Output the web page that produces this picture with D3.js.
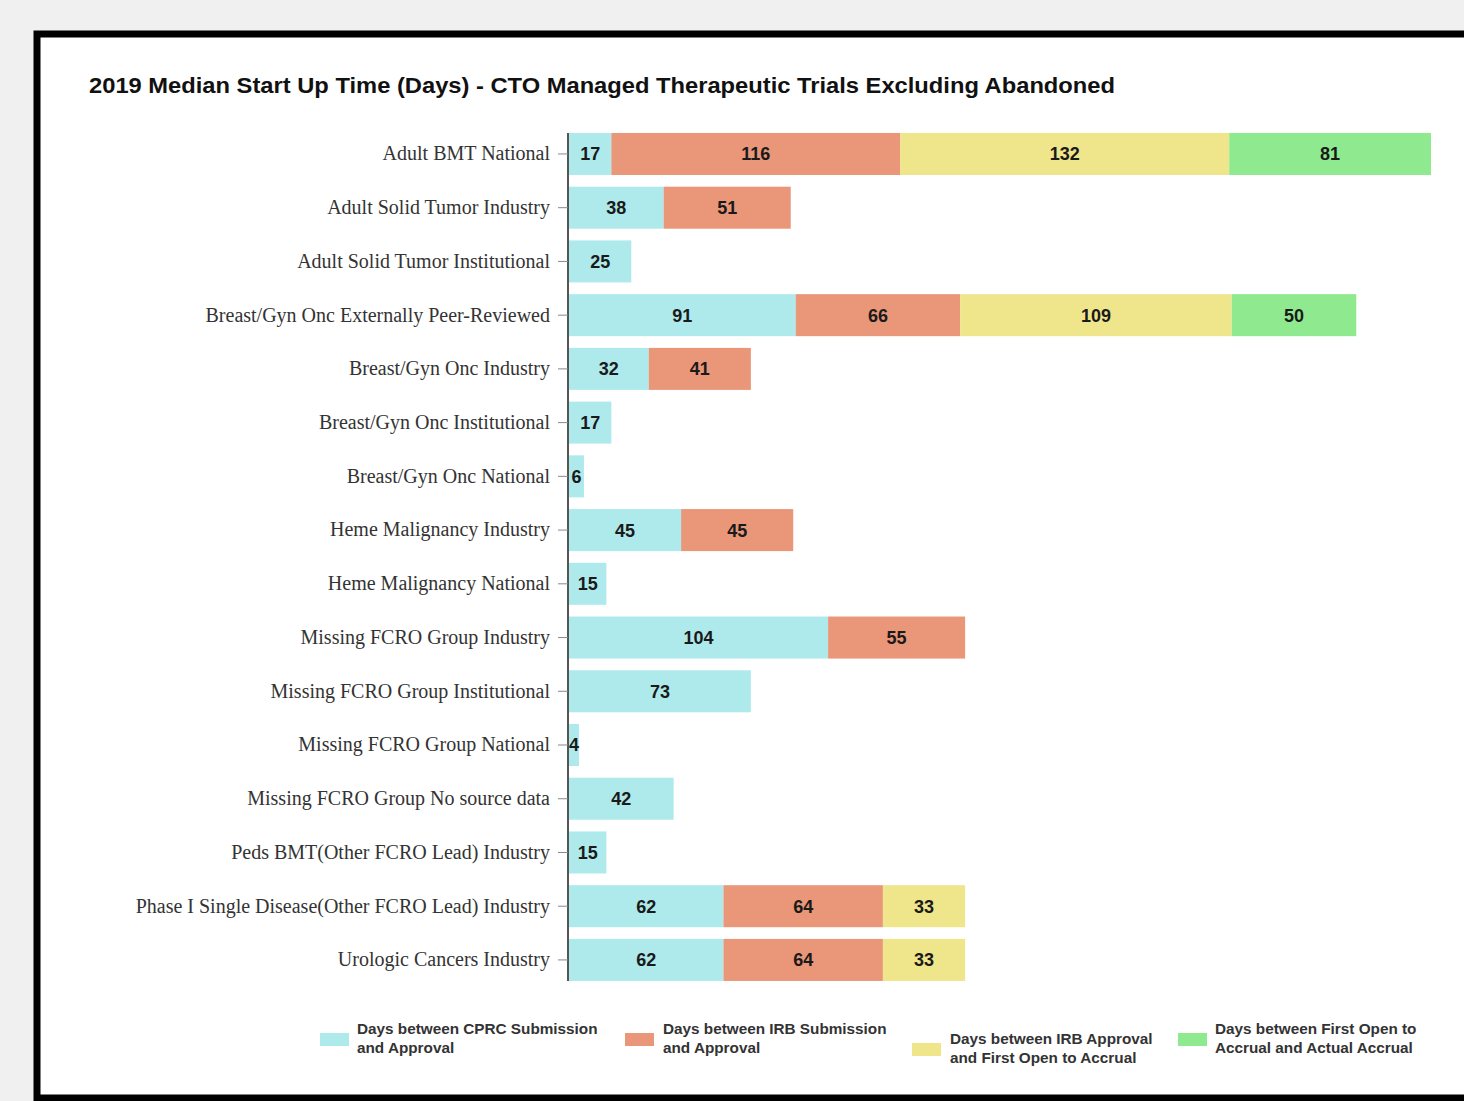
<!DOCTYPE html>
<html><head><meta charset="utf-8">
<script src="https://cdn.jsdelivr.net/npm/d3@7"></script>
<style>
html,body{margin:0;padding:0;background:#f0f0f0;}
svg{display:block;}
</style></head>
<body>
<script>
const categories = [
  "Adult BMT National",
  "Adult Solid Tumor Industry",
  "Adult Solid Tumor Institutional",
  "Breast/Gyn Onc Externally Peer-Reviewed",
  "Breast/Gyn Onc Industry",
  "Breast/Gyn Onc Institutional",
  "Breast/Gyn Onc National",
  "Heme Malignancy Industry",
  "Heme Malignancy National",
  "Missing FCRO Group Industry",
  "Missing FCRO Group Institutional",
  "Missing FCRO Group National",
  "Missing FCRO Group No source data",
  "Peds BMT(Other FCRO Lead) Industry",
  "Phase I Single Disease(Other FCRO Lead) Industry",
  "Urologic Cancers Industry"
];
const cprcDays   = [17, 38, 25, 91, 32, 17, 6, 45, 15, 104, 73, 4, 42, 15, 62, 62];
const irbDays    = [116, 51, 0, 66, 41, 0, 0, 45, 0, 55, 0, 0, 0, 0, 64, 64];
const openDays   = [132, 0, 0, 109, 0, 0, 0, 0, 0, 0, 0, 0, 0, 0, 33, 33];
const accrualDays= [81, 0, 0, 50, 0, 0, 0, 0, 0, 0, 0, 0, 0, 0, 0, 0];
const seriesNames = [
  ["Days between CPRC Submission", "and Approval"],
  ["Days between IRB Submission", "and Approval"],
  ["Days between IRB Approval", "and First Open to Accrual"],
  ["Days between First Open to", "Accrual and Actual Accrual"]
];
const colors = ["#aeeaec", "#ea9679", "#efe58b", "#8fea8f"];
const titleText = "2019 Median Start Up Time (Days) - CTO Managed Therapeutic Trials Excluding Abandoned";

const W = 1464, H = 1101;
const svg = d3.select("body").append("svg").attr("width", W).attr("height", H);
svg.append("rect").attr("width", W).attr("height", H).attr("fill", "#f0f0f0");
// frame
svg.append("rect").attr("x", 37).attr("y", 34).attr("width", W + 20).attr("height", 1064)
  .attr("fill", "#ffffff").attr("stroke", "#000").attr("stroke-width", 7);

svg.append("text").attr("x", 89).attr("y", 93)
  .attr("font-family", "Liberation Sans, Arial, sans-serif").attr("font-weight", "bold")
  .attr("font-size", 22.5).attr("fill", "#111")
  .attr("textLength", 1026).attr("lengthAdjust", "spacingAndGlyphs").text(titleText);

const series = [cprcDays, irbDays, openDays, accrualDays];
const rows = categories.map((c, i) => ({cat: c, vals: series.map(s => s[i])}));

const x = d3.scaleLinear().domain([0, 346]).range([569, 1431]);
const y = d3.scaleBand().domain(categories).range([127.1, 986.8]).paddingInner(0.218).paddingOuter(0.109);

const g = svg.append("g");
rows.forEach(r => {
  let acc = 0;
  r.vals.forEach((v, k) => {
    if (v <= 0) return;
    const x0 = x(acc), x1 = x(acc + v);
    g.append("rect").attr("x", x0).attr("y", y(r.cat)).attr("width", x1 - x0)
      .attr("height", y.bandwidth()).attr("fill", colors[k]);
    g.append("text").attr("x", (x0 + x1) / 2).attr("y", y(r.cat) + y.bandwidth() / 2)
      .attr("dy", "0.36em").attr("text-anchor", "middle")
      .attr("font-family", "Liberation Sans, Arial, sans-serif").attr("font-weight", "bold")
      .attr("font-size", 18).attr("fill", "#1a1a1a").text(v);
    acc += v;
  });
});

// y axis
const axis = d3.axisLeft(y).tickSize(10).tickSizeOuter(0).tickPadding(8);
const ag = svg.append("g").attr("transform", "translate(568,0)").call(axis);
ag.select(".domain").attr("stroke", "#555").attr("stroke-width", 2)
  .attr("d", `M0,${y(categories[0])}V${y(categories[categories.length-1]) + y.bandwidth()}`);
ag.selectAll(".tick line").attr("stroke", "#888").attr("stroke-width", 1);
ag.selectAll(".tick text").attr("font-family", "Liberation Serif, Times New Roman, serif")
  .attr("font-size", 20).attr("fill", "#333");

// legend
const legendPos = [
  {sx: 320, tx: 357, ty: 1034},
  {sx: 625, tx: 663, ty: 1034},
  {sx: 912, tx: 950, ty: 1044},
  {sx: 1178, tx: 1215, ty: 1034}
];
seriesNames.forEach((lines, k) => {
  const p = legendPos[k];
  svg.append("rect").attr("x", p.sx).attr("y", p.ty - 1).attr("width", 29).attr("height", 13)
    .attr("fill", colors[k]);
  const t = svg.append("text").attr("x", p.tx).attr("y", p.ty)
    .attr("font-family", "Liberation Sans, Arial, sans-serif").attr("font-weight", "bold")
    .attr("font-size", 15.3).attr("fill", "#333");
  lines.forEach((ln, j) => t.append("tspan").attr("x", p.tx).attr("y", p.ty + j * 19).text(ln));
});
</script>
</body></html>
